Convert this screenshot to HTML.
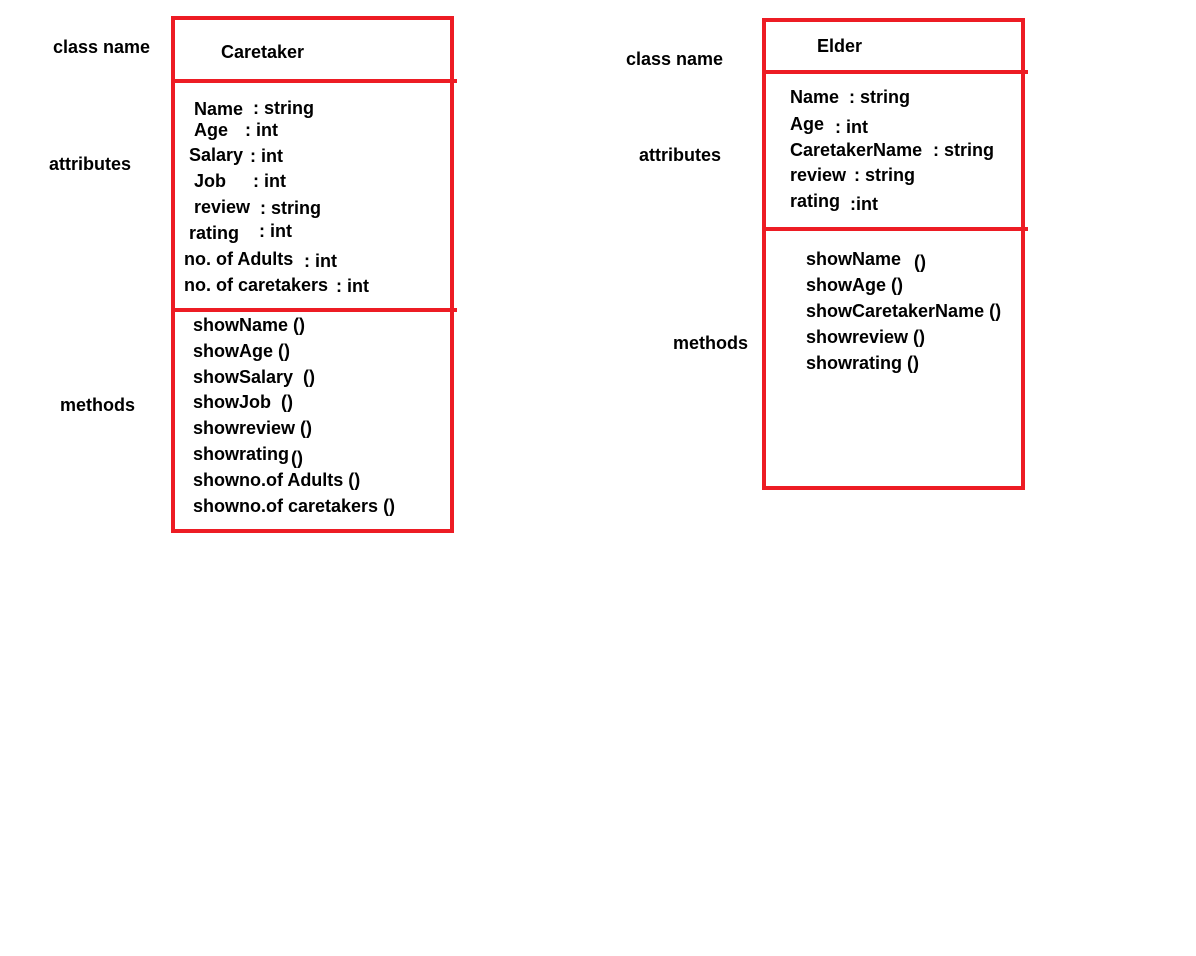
<!DOCTYPE html>
<html><head><meta charset="utf-8"><style>
body{margin:0;width:1196px;height:956px;background:#fff;position:relative;overflow:hidden;font-family:"Liberation Sans",sans-serif;font-weight:bold;font-size:18px;color:#000}
.t{position:absolute;line-height:20px;white-space:nowrap}
.b{position:absolute;border:4px solid #ed1c24;box-sizing:border-box}
.h{position:absolute;height:4px;background:#ed1c24}
</style></head><body>
<div class="b" style="left:171px;top:16px;width:283px;height:517px"></div>
<div class="h" style="left:171px;top:79px;width:286px"></div>
<div class="h" style="left:171px;top:308px;width:286px"></div>
<div class="b" style="left:762px;top:18px;width:263px;height:472px"></div>
<div class="h" style="left:762px;top:70px;width:266px"></div>
<div class="h" style="left:762px;top:227px;width:266px"></div>

<div class="t" style="left:53px;top:37px">class name</div>
<div class="t" style="left:49px;top:154px">attributes</div>
<div class="t" style="left:60px;top:395px">methods</div>
<div class="t" style="left:626px;top:49px">class name</div>
<div class="t" style="left:639px;top:145px">attributes</div>
<div class="t" style="left:673px;top:333px">methods</div>

<div class="t" style="left:221px;top:42px">Caretaker</div>
<div class="t" style="left:194px;top:99px">Name</div><div class="t" style="left:253px;top:98px">: string</div>
<div class="t" style="left:194px;top:120px">Age</div><div class="t" style="left:245px;top:120px">: int</div>
<div class="t" style="left:189px;top:145px">Salary</div><div class="t" style="left:250px;top:146px">: int</div>
<div class="t" style="left:194px;top:171px">Job</div><div class="t" style="left:253px;top:171px">: int</div>
<div class="t" style="left:194px;top:197px">review</div><div class="t" style="left:260px;top:198px">: string</div>
<div class="t" style="left:189px;top:223px">rating</div><div class="t" style="left:259px;top:221px">: int</div>
<div class="t" style="left:184px;top:249px">no. of Adults</div><div class="t" style="left:304px;top:251px">: int</div>
<div class="t" style="left:184px;top:275px">no. of caretakers</div><div class="t" style="left:336px;top:276px">: int</div>
<div class="t" style="left:193px;top:315px">showName ()</div>
<div class="t" style="left:193px;top:341px">showAge ()</div>
<div class="t" style="left:193px;top:367px">showSalary&nbsp; ()</div>
<div class="t" style="left:193px;top:392px">showJob&nbsp; ()</div>
<div class="t" style="left:193px;top:418px">showreview ()</div>
<div class="t" style="left:193px;top:444px">showrating</div><div class="t" style="left:291px;top:448px">()</div>
<div class="t" style="left:193px;top:470px">showno.of Adults ()</div>
<div class="t" style="left:193px;top:496px">showno.of caretakers ()</div>

<div class="t" style="left:817px;top:36px">Elder</div>
<div class="t" style="left:790px;top:87px">Name</div><div class="t" style="left:849px;top:87px">: string</div>
<div class="t" style="left:790px;top:114px">Age</div><div class="t" style="left:835px;top:117px">: int</div>
<div class="t" style="left:790px;top:140px">CaretakerName</div><div class="t" style="left:933px;top:140px">: string</div>
<div class="t" style="left:790px;top:165px">review</div><div class="t" style="left:854px;top:165px">: string</div>
<div class="t" style="left:790px;top:191px">rating</div><div class="t" style="left:850px;top:194px">:int</div>
<div class="t" style="left:806px;top:249px">showName</div><div class="t" style="left:914px;top:252px">()</div>
<div class="t" style="left:806px;top:275px">showAge ()</div>
<div class="t" style="left:806px;top:301px">showCaretakerName ()</div>
<div class="t" style="left:806px;top:327px">showreview ()</div>
<div class="t" style="left:806px;top:353px">showrating ()</div>
</body></html>
